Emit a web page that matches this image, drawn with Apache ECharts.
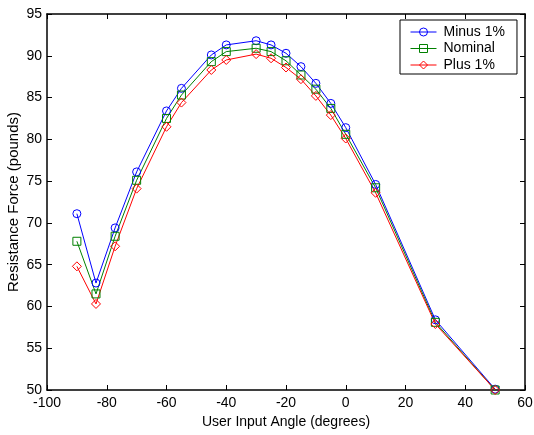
<!DOCTYPE html>
<html lang="en">
<head>
  <meta charset="UTF-8">
  <title>Resistance Force</title>
  <script src="https://cdn.jsdelivr.net/npm/echarts@6/dist/echarts.min.js"></script>
</head>
<body style="margin:0">
  <div id="main" style="width: 534px;height:435px;"></div>
  <script>
    // values
    var angles = [-90, -83.6, -77.2, -70, -60, -55, -45, -40, -30, -25, -20, -15, -10, -5, 0, 10, 30, 50];
    var minus1 = [71.1, 62.8, 69.4, 76.1, 83.4, 86.1, 90.1, 91.3, 91.8, 91.3, 90.3, 88.7, 86.7, 84.3, 81.4, 74.6, 58.4, 50.1];
    var nominal = [67.8, 61.5, 68.4, 75.1, 82.5, 85.3, 89.3, 90.5, 90.9, 90.5, 89.4, 87.7, 86.0, 83.7, 80.6, 74.2, 58.1, 50.0];
    var plus1 = [64.8, 60.3, 67.2, 74.1, 81.5, 84.4, 88.3, 89.5, 90.2, 89.7, 88.6, 87.2, 85.2, 82.9, 80.1, 73.6, 57.9, 50.0];
    var seriesNames = ['Minus 1%', 'Nominal', 'Plus 1%'];

    var font = 'Liberation Sans, Arial, sans-serif';

    function pairs(ys) {
      return angles.map(function (a, i) { return [a, ys[i]]; });
    }

    function lineSeries(name, ys, color, symbol, size) {
      return {
        name: name,
        type: 'line',
        data: pairs(ys),
        symbol: symbol,
        symbolSize: size,
        showAllSymbol: true,
        lineStyle: { color: color, width: 1 },
        itemStyle: { color: 'transparent', borderColor: color, borderWidth: 1 },
        emphasis: { disabled: true },
        z: 3
      };
    }

    var axisCommon = {
      axisLine: { show: true, onZero: false, lineStyle: { color: '#000', width: 1.5 } },
      axisTick: { show: true, inside: true, length: 5, lineStyle: { color: '#000' } },
      splitLine: { show: false }
    };

    var myChart = echarts.init(document.getElementById('main'));

    var option = {
      animation: false,
      backgroundColor: '#fff',
      grid: { left: 47, right: 9, top: 14, bottom: 45, containLabel: false, outerBoundsMode: 'none' },
      legend: {
        orient: 'vertical',
        left: 400,
        top: 20,
        padding: [5, 12, 2, 10],
        itemWidth: 26,
        itemHeight: 10,
        itemGap: 2.5,
        borderColor: '#000',
        borderWidth: 1,
        backgroundColor: '#fff',
        lineStyle: { width: 1 },
        itemStyle: { borderWidth: 1 },
        textStyle: { fontFamily: font, fontSize: 14, color: '#000', padding: [0, 0, 0, 2] },
        data: seriesNames
      },
      xAxis: [
        Object.assign({
          type: 'value', min: -100, max: 60, interval: 20,
          name: 'User Input Angle (degrees)', nameLocation: 'middle', nameGap: 25,
          nameMoveOverlap: false,
          nameTextStyle: { fontFamily: font, fontSize: 14, color: '#000' },
          axisLabel: { fontFamily: font, fontSize: 14, color: '#000', margin: 6 }
        }, axisCommon),
        Object.assign({
          type: 'value', min: -100, max: 60, interval: 20, position: 'top',
          axisLabel: { show: false }
        }, axisCommon)
      ],
      yAxis: [
        Object.assign({
          type: 'value', min: 50, max: 95, interval: 5,
          name: 'Resistance Force (pounds)', nameLocation: 'middle', nameGap: 26,
          nameMoveOverlap: false,
          nameTextStyle: { fontFamily: font, fontSize: 15, color: '#000' },
          axisLabel: { fontFamily: font, fontSize: 14, color: '#000', margin: 5 }
        }, axisCommon),
        Object.assign({
          type: 'value', min: 50, max: 95, interval: 5, position: 'right',
          axisLabel: { show: false }
        }, axisCommon)
      ],
      series: [
        lineSeries(seriesNames[0], minus1, '#0000ff', 'circle', 8),
        lineSeries(seriesNames[1], nominal, '#008000', 'rect', 8),
        lineSeries(seriesNames[2], plus1, '#ff0000', 'diamond', 9)
      ]
    };

    myChart.setOption(option);
  </script>
</body>
</html>
